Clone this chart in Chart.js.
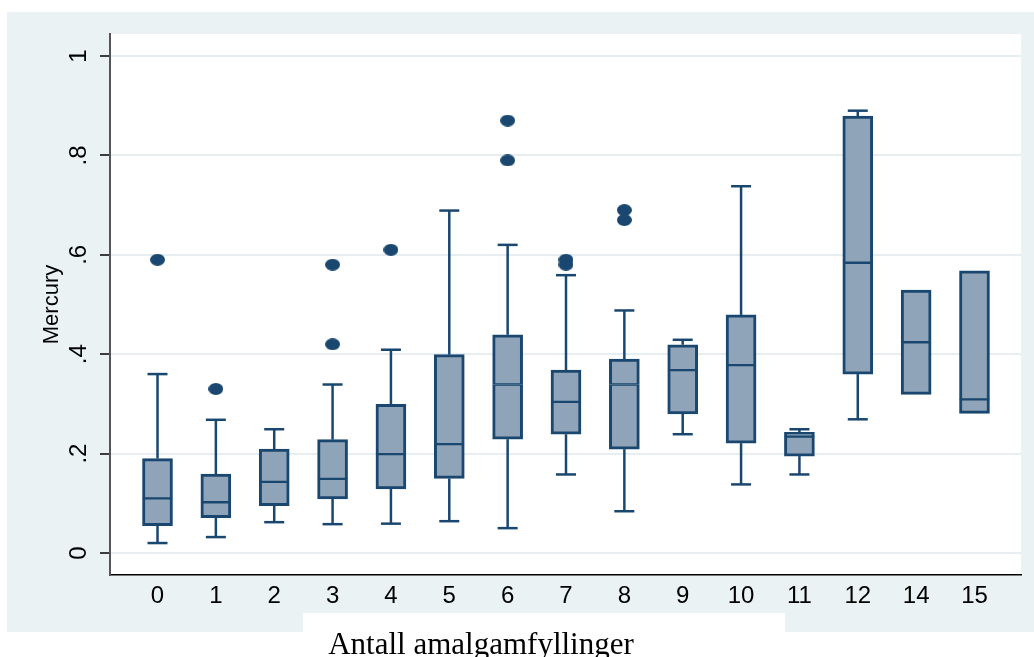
<!DOCTYPE html>
<html>
<head>
<meta charset="utf-8">
<script src="https://cdn.jsdelivr.net/npm/chart.js@4.4.1/dist/chart.umd.min.js"></script>
<style>
html,body{margin:0;padding:0;background:#fff;overflow:hidden}
#wrap{width:1034px;height:657px;position:relative}
</style>
</head>
<body>
<div id="wrap"><canvas id="c" width="1034" height="657"></canvas></div>
<script>
// ---- data ----
const categories  = ['0','1','2','3','4','5','6','7','8','9','10','11','12','14','15'];
const whiskerLow  = [0.020,0.032,0.062,0.058,0.059,0.064,0.050,0.158,0.084,0.239,0.138,0.158,0.269,0.319,0.281];
const q1          = [0.055,0.071,0.095,0.109,0.129,0.150,0.229,0.239,0.209,0.280,0.221,0.195,0.360,0.319,0.281];
const median      = [0.110,0.102,0.143,0.149,0.199,0.219,0.339,0.304,0.339,0.368,0.378,0.234,0.584,0.424,0.309];
const q3          = [0.190,0.159,0.209,0.228,0.299,0.399,0.439,0.368,0.390,0.419,0.479,0.243,0.879,0.529,0.568];
const whiskerHigh = [0.360,0.268,0.249,0.339,0.409,0.689,0.620,0.559,0.488,0.429,0.738,0.249,0.890,0.529,0.568];
const outlierCategory = ['0','1','3','3','4','6','6','7','7','8','8'];
const outlierValue    = [0.59,0.33,0.58,0.42,0.61,0.87,0.79,0.59,0.58,0.69,0.67];
const yTickValues = [0,0.2,0.4,0.6,0.8,1];
const yTickLabels = ['0','.2','.4','.6','.8','1'];
const xTitle = 'Antall amalgamfyllinger';
const yTitle = 'Mercury';

// ---- styles ----
const NAVY = '#1a476f';
const FILL = '#8fa4b8';
const BG = '#eaf2f3';
const GRID = '#e6eef1';
const SANS = '"Liberation Sans", Arial, sans-serif';

const dot = document.createElement('canvas');
dot.width = 15; dot.height = 12;
(function(){ const d = dot.getContext('2d'); d.fillStyle = NAVY; d.beginPath(); d.ellipse(7.5,6,7.5,6,0,0,Math.PI*2); d.fill(); })();

const boxPlugin = {
  id: 'boxdeco',
  beforeDraw(chart) {
    const {ctx, chartArea: a} = chart;
    ctx.save();
    ctx.fillStyle = '#fff'; ctx.fillRect(0,0,chart.width,chart.height);
    ctx.fillStyle = BG; ctx.fillRect(7,12,1027,620);
    ctx.fillStyle = '#fff'; ctx.fillRect(a.left,a.top,a.right-a.left,a.bottom-a.top);
    ctx.fillRect(303,613,482,44);
    ctx.fillStyle = '#000';
    ctx.font = '31px "Liberation Serif", "Times New Roman", serif';
    ctx.textAlign = 'center'; ctx.textBaseline = 'alphabetic';
    ctx.fillText(xTitle, 481, 654);
    ctx.restore();
  },
  beforeDatasetsDraw(chart) {
    const {ctx} = chart;
    const xs = chart.scales.x, ys = chart.scales.y;
    ctx.save();
    ctx.strokeStyle = NAVY; ctx.lineWidth = 2.5;
    categories.forEach((c, i) => {
      const x = xs.getPixelForValue(i);
      const seg = (v1, v2) => { ctx.beginPath(); ctx.moveTo(x, ys.getPixelForValue(v1)); ctx.lineTo(x, ys.getPixelForValue(v2)); ctx.stroke(); };
      const cap = (v) => { const y = ys.getPixelForValue(v); ctx.beginPath(); ctx.moveTo(x-10, y); ctx.lineTo(x+10, y); ctx.stroke(); };
      if (whiskerHigh[i] > q3[i]) { seg(q3[i], whiskerHigh[i]); cap(whiskerHigh[i]); }
      if (whiskerLow[i] < q1[i]) { seg(whiskerLow[i], q1[i]); cap(whiskerLow[i]); }
    });
    ctx.restore();
  }
};

const lowerBox = categories.map((c, i) => ({x: i, y: [q1[i], median[i]]}));
const upperBox = categories.map((c, i) => ({x: i, y: [median[i], q3[i]]}));
const outliers = outlierValue.map((v, k) => ({x: categories.indexOf(outlierCategory[k]), y: v}));

new Chart(document.getElementById('c'), {
  type: 'bar',
  data: {
    datasets: [
      { type: 'scatter', data: outliers, pointStyle: dot, pointRadius: 6, backgroundColor: NAVY, borderColor: NAVY },
      { data: upperBox, backgroundColor: FILL, borderColor: NAVY, borderSkipped: false,
        borderWidth: {left: 3, right: 3, top: 3, bottom: 1.5}, barThickness: 30, grouped: false },
      { data: lowerBox, backgroundColor: FILL, borderColor: NAVY, borderSkipped: false,
        borderWidth: {left: 3, right: 3, top: 1.5, bottom: 3}, barThickness: 30, grouped: false }
    ]
  },
  options: {
    responsive: false,
    animation: false,
    events: [],
    layout: { padding: { left: 0, top: 34, right: 13, bottom: 0 } },
    plugins: { legend: { display: false }, tooltip: { enabled: false } },
    scales: {
      x: {
        type: 'linear', min: -0.814, max: 14.797, offset: false,
        afterBuildTicks(s) { s.ticks = categories.map((c, i) => ({value: i})); },
        afterFit(s) { s.height = 82; },
        ticks: { callback: (v, i) => categories[i], font: {family: SANS, size: 24}, color: '#000',
                 padding: 7, autoSkip: false, minRotation: 0, maxRotation: 0 },
        grid: { display: false, drawTicks: false },
        border: { display: true, color: '#000', width: 1.5 }
      },
      y: {
        type: 'linear', min: -0.0443, max: 1.0443,
        afterBuildTicks(s) { s.ticks = yTickValues.map(v => ({value: v})); },
        afterFit(s) { s.width = 110; },
        ticks: { callback: (v, i) => yTickLabels[i], font: {family: SANS, size: 24}, color: '#000',
                 padding: 11, minRotation: 90, maxRotation: 90, crossAlign: 'center', autoSkip: false },
        grid: { color: GRID, lineWidth: 2, drawTicks: true, tickLength: 10, tickColor: '#000', tickWidth: 1.5 },
        border: { display: true, color: '#555', width: 2 },
        title: { display: true, text: yTitle, font: {family: SANS, size: 22}, color: '#000', padding: {top: 39, bottom: 0} }
      }
    }
  },
  plugins: [boxPlugin]
});
</script>
</body>
</html>
